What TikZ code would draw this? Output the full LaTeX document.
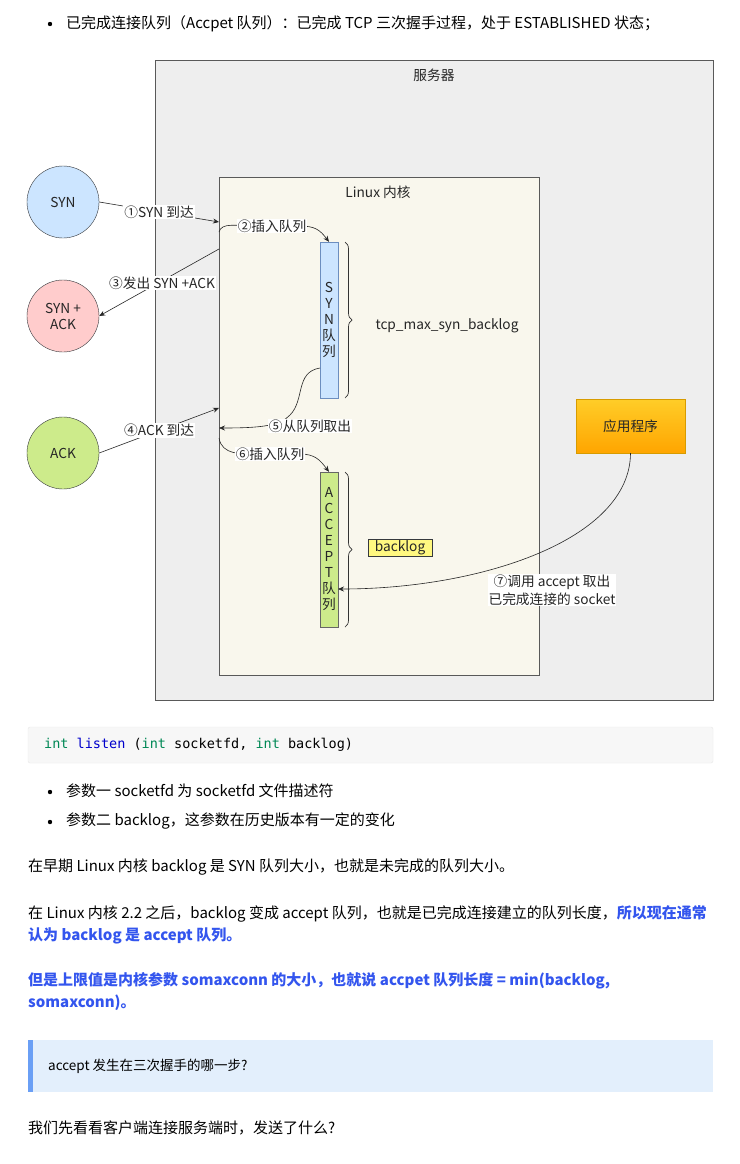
\documentclass[tikz,border=0pt]{standalone}
\usepackage{fontspec}
\setmainfont{Noto Sans CJK SC}
\newfontfamily\codefont{DejaVu Sans Mono}
\usetikzlibrary{arrows.meta,decorations.pathreplacing}
\definecolor{srv}{HTML}{EEEEEE}
\definecolor{krn}{HTML}{F9F7ED}
\definecolor{cblue}{HTML}{CCE5FF}
\definecolor{cred}{HTML}{FFCCCC}
\definecolor{cgreen}{HTML}{CDEB8B}
\definecolor{edge}{HTML}{36393D}
\definecolor{qblue}{HTML}{6C8EBF}
\definecolor{hl}{HTML}{3355EE}
\definecolor{kw}{HTML}{008855}
\definecolor{fn}{HTML}{0000CC}
\definecolor{appd}{HTML}{D79B00}
\definecolor{appt}{HTML}{FFCD28}
\definecolor{appb}{HTML}{FFA500}
\definecolor{qbar}{HTML}{6A9FF5}
\definecolor{qbg}{HTML}{E3EFFC}
\begin{document}
\begin{tikzpicture}[x=1pt,y=-1pt,
  txt/.style={font=\fontsize{15}{18}\selectfont,anchor=west,inner sep=0},
  dtxt/.style={font=\fontsize{13.7}{16}\selectfont,text=black!85},
  lbl/.style={dtxt,fill=white,inner sep=1pt},
  circ/.style={circle,draw=edge,minimum size=72pt,dtxt,align=center,inner sep=0},
  arr/.style={-{Stealth[length=6pt,width=5pt]},draw=black!85,line width=0.6pt},
  queue/.style={draw=qblue,minimum width=18pt,dtxt,align=center,inner sep=0},
  brc/.style={decorate,decoration={brace,amplitude=7pt},draw=black!80,line width=0.7pt}]
\useasboundingbox (0,0) rectangle (739,1164);
\fill[white] (0,0) rectangle (739,1164);
% header
\fill (50,24) circle (2.2pt);
\node[txt] (h) at (66,24) {已完成连接队列（Accpet 队列）：已完成 TCP 三次握手过程，处于 ESTABLISHED 状态；};
% server
\draw[fill=srv,draw=black!65] (155,60) rectangle (713,700);
\node[dtxt] (srvl) at (434,75) {服务器};
\draw[fill=krn,draw=black!65] (219,177) rectangle (539,675);
\node[dtxt] (krnl) at (378,192) {Linux 内核};
\node[circ,fill=cblue] (syn) at (63,202) {SYN};
\node[circ,fill=cred] (synack) at (63,316) {SYN +\\ACK};
\node[circ,fill=cgreen] (ack) at (63,453) {ACK};
\node[queue,fill=cblue,minimum height=156pt] (sq) at (329,320) {S\\Y\\N\\队\\列};
\node[queue,fill=cgreen,draw=black!60,minimum height=155pt] (aq) at (329,549.5) {A\\C\\C\\E\\P\\T\\队\\列};
\draw[brc] (345,242) -- (345,398);
\node[dtxt,anchor=west] (tmsb) at (372,326) {tcp\_max\_syn\_backlog};
\draw[brc] (345,472) -- (345,627);
\node[dtxt,draw=edge,fill=yellow!50,minimum width=64pt,minimum height=17pt,inner sep=0] (bl) at (400,547.5) {backlog};
\node[dtxt,draw=appd,top color=appt,bottom color=appb,minimum width=109pt,minimum height=54pt] (app) at (630.5,426) {应用程序};
% connectors
\coordinate (k1) at (219,222);
\coordinate (k2) at (219,232);
\coordinate (k3) at (219,249);
\coordinate (k4) at (219,408);
\coordinate (k5) at (219,428);
\coordinate (k6) at (219,438);
\draw[arr] (syn.east) -- (k1) node[lbl,pos=0.5] {①SYN 到达};
\draw[arr] (k2) .. controls (222,222) and (235,226) .. (260,226) -- (300,226) .. controls (315,226) and (320,230) .. (sq.north);
\node[lbl] (l2) at (272,226) {②插入队列};
\draw[arr] (k3) -- (synack.east);
\node[lbl] (l3) at (162,283) {③发出 SYN +ACK};
\draw[arr] (ack.east) -- (k4) node[lbl,pos=0.5] {④ACK 到达};
\draw[arr] (320,368) .. controls (295,372) and (305,400) .. (290,415) .. controls (280,426) and (260,428) .. (k5);
\node[lbl] (l5) at (310,426) {⑤从队列取出};
\draw[arr] (k6) .. controls (222,455) and (240,454) .. (260,454) -- (300,454) .. controls (315,454) and (320,460) .. (aq.north);
\node[lbl] (l6) at (270,454) {⑥插入队列};
\draw[arr] (app.south) .. controls (630,540) and (480,589) .. (338,589);
\node[lbl,align=center,font=\fontsize{13.7}{18}\selectfont] (l7) at (552,590) {⑦调用 accept 取出\\已完成连接的 socket};
% code block
\draw[fill=black!3,draw=black!9,rounded corners=2pt] (28,727) rectangle (713,763);
\node[txt,font=\codefont\fontsize{13.5}{16}\selectfont] (code) at (44,745) {\textcolor{kw}{int} \textcolor{fn}{listen} (\textcolor{kw}{int} socketfd, \textcolor{kw}{int} backlog)};
\fill (50,792) circle (2.2pt);
\node[txt] (b1) at (66,791) {参数一 socketfd 为 socketfd 文件描述符};
\fill (50,822) circle (2.2pt);
\node[txt] (b2) at (66,821) {参数二 backlog，这参数在历史版本有一定的变化};
\node[txt] (p1) at (28,867) {在早期 Linux 内核 backlog 是 SYN 队列大小，也就是未完成的队列大小。};
\node[txt] (p2) at (28,914) {在 Linux 内核 2.2 之后，backlog 变成 accept 队列，也就是已完成连接建立的队列长度，\textcolor{hl}{\bfseries 所以现在通常}};
\node[txt,text=hl,font=\fontsize{15}{18}\selectfont\bfseries] (p2b) at (28,936) {认为 backlog 是 accept 队列。};
\node[txt,text=hl,font=\fontsize{15}{18}\selectfont\bfseries] (p3) at (28,981) {但是上限值是内核参数 somaxconn 的大小，也就说 accpet 队列长度 = min(backlog,};
\node[txt,text=hl,font=\fontsize{15}{18}\selectfont\bfseries] (p3b) at (28,1003) {somaxconn)。};
\fill[qbg] (28,1040) rectangle (713,1092);
\fill[qbar] (28,1040) rectangle (33,1092);
\node[txt,font=\fontsize{13.5}{16}\selectfont] (q) at (48,1066) {accept 发生在三次握手的哪一步?};
\node[txt] (p4) at (28,1128) {我们先看看客户端连接服务端时，发送了什么?};
\end{tikzpicture}
\end{document}
